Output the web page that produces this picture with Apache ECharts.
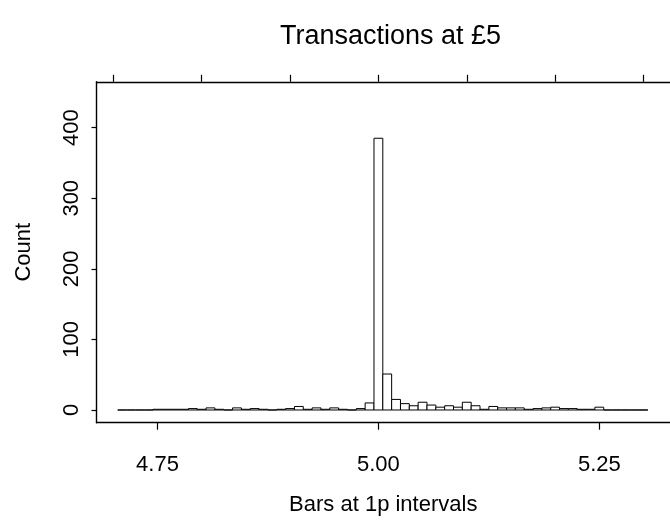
<!DOCTYPE html>
<html>
<head>
<meta charset="utf-8">
<script src="https://cdn.jsdelivr.net/npm/echarts@6/dist/echarts.min.js"></script>
<style>html,body{margin:0;padding:0;background:#fff;}#c{width:670px;height:522px;}</style>
</head>
<body>
<div id="c"></div>
<script>
// Bin centres (1p bins) and counts
const binCenters = [4.71,4.72,4.73,4.74,4.75,4.76,4.77,4.78,4.79,4.80,
  4.81,4.82,4.83,4.84,4.85,4.86,4.87,4.88,4.89,4.90,
  4.91,4.92,4.93,4.94,4.95,4.96,4.97,4.98,4.99,5.00,
  5.01,5.02,5.03,5.04,5.05,5.06,5.07,5.08,5.09,5.10,
  5.11,5.12,5.13,5.14,5.15,5.16,5.17,5.18,5.19,5.20,
  5.21,5.22,5.23,5.24,5.25,5.26,5.27,5.28,5.29,5.30];
const counts = [0,0,0,0,1,1,1,1,2,1,
  3,1,0,3,1,2,1,0,1,2,
  5,1,3,1,3,1,0,2,10,385,
  51,15,9,6,11,7,4,6,4,11,
  6,1,5,3,3,3,1,2,3,4,
  2,2,1,1,4,0,0,0,0,0];
const binWidth = 0.01;
const xTickValues = [4.75, 5.00, 5.25];
const xTickLabels = ['4.75', '5.00', '5.25'];
const topTickValues = [4.7, 4.8, 4.9, 5.0, 5.1, 5.2, 5.3];
const yTickValues = [0, 100, 200, 300, 400];
const yTickLabels = ['0', '100', '200', '300', '400'];

const FONT = 'Liberation Sans, Arial, Helvetica, sans-serif';
const chart = echarts.init(document.getElementById('c'), null, {renderer: 'canvas'});
const data = binCenters.map((c, i) => [c, counts[i]]);

chart.setOption({
  backgroundColor: '#fff',
  animation: false,
  title: {
    text: 'Transactions at £5',
    left: 275, top: 18,
    textStyle: {fontFamily: FONT, fontSize: 27, fontWeight: 'normal', color: '#000'}
  },
  grid: {left: 96.5, top: 81.8, width: 579, height: 340.9, containLabel: false},
  xAxis: [{
    type: 'value', position: 'bottom', min: 4.681, max: 5.33,
    axisLine: {show: true, onZero: false, lineStyle: {color: '#000', width: 1.4}},
    axisTick: {show: true, customValues: xTickValues, length: 7, lineStyle: {color: '#000', width: 1.2}},
    axisLabel: {show: true, customValues: xTickValues, margin: 31,
      formatter: v => xTickLabels[xTickValues.findIndex(t => Math.abs(t - v) < 1e-9)] || '',
      fontFamily: FONT, fontSize: 22, color: '#000'},
    splitLine: {show: false},
    name: 'Bars at 1p intervals', nameLocation: 'middle', nameGap: 71,
    nameTextStyle: {fontFamily: FONT, fontSize: 22, color: '#000'}
  }, {
    type: 'value', position: 'top', min: 4.681, max: 5.33,
    axisLine: {show: true, onZero: false, lineStyle: {color: '#000', width: 1.4}},
    axisTick: {show: true, customValues: topTickValues, length: 7, lineStyle: {color: '#000', width: 1.2}},
    axisLabel: {show: false},
    splitLine: {show: false}
  }],
  yAxis: {
    type: 'value', min: -18, max: 465,
    axisLine: {show: true, onZero: false, lineStyle: {color: '#000', width: 1.4}},
    axisTick: {show: true, customValues: yTickValues, length: 5, lineStyle: {color: '#000', width: 1.2}},
    axisLabel: {show: true, customValues: yTickValues, rotate: 90, margin: 14,
      formatter: v => yTickLabels[yTickValues.indexOf(v)] || '',
      fontFamily: FONT, fontSize: 22, color: '#000'},
    splitLine: {show: false},
    name: 'Count', nameLocation: 'middle', nameGap: 62, nameRotate: 90,
    nameTextStyle: {fontFamily: FONT, fontSize: 22, color: '#000'}
  },
  series: [{
    type: 'custom',
    xAxisIndex: 0, yAxisIndex: 0,
    data: data,
    renderItem: function (params, api) {
      const x = api.value(0), y = api.value(1);
      const p0 = api.coord([x - binWidth / 2, y]);
      const p1 = api.coord([x + binWidth / 2, 0]);
      return {
        type: 'rect',
        shape: {x: p0[0], y: p0[1], width: p1[0] - p0[0], height: p1[1] - p0[1]},
        style: {fill: '#fff', stroke: '#000', lineWidth: 1}
      };
    }
  }]
});
</script>
</body>
</html>
